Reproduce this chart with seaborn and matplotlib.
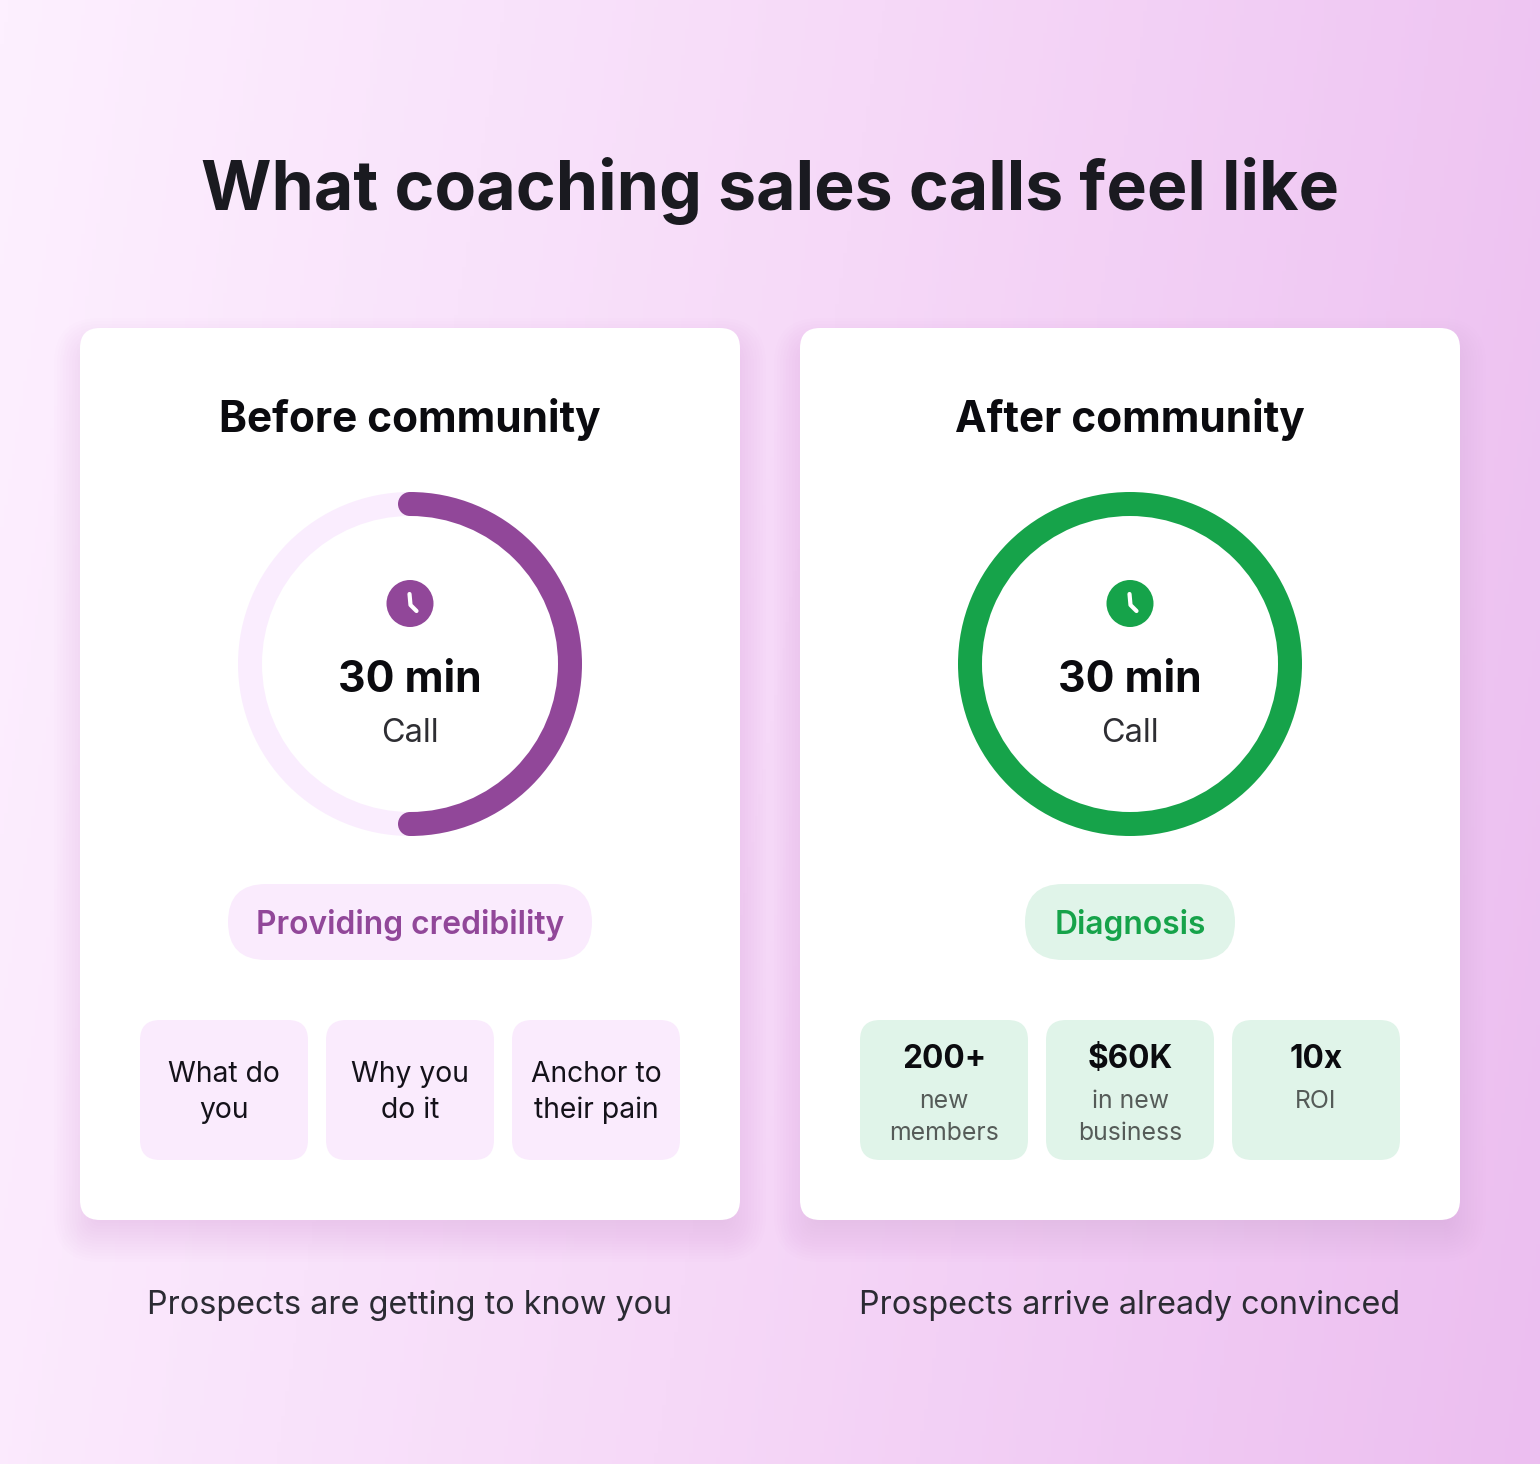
import numpy as np
import matplotlib
matplotlib.use("Agg")
import matplotlib.pyplot as plt
from matplotlib.patches import FancyBboxPatch, Circle
import seaborn as sns

# ---- data ----
title = "What coaching sales calls feel like"
panel_titles = ["Before community", "After community"]
spent_minutes = [15, 30]
total_minutes = [30, 30]
center_big = ["30 min", "30 min"]
center_small = ["Call", "Call"]
pill_labels = ["Providing credibility", "Diagnosis"]
before_boxes = ["What do\nyou", "Why you\ndo it", "Anchor to\ntheir pain"]
after_heads = ["200+", "$60K", "10x"]
after_subs = ["new\nmembers", "in new\nbusiness", "ROI"]
footers = ["Prospects are getting to know you", "Prospects arrive already convinced"]

# ---- style ----
W, H = 1540, 1464
PURPLE, GREEN = "#914799", "#16A34A"
TRACK = ["#FAEBFD", "#E0F4E9"]
MAIN = [PURPLE, GREEN]
px = 0.72

sns.set_theme(style="white")
plt.rcParams["font.family"] = ["Inter", "DejaVu Sans"]

fig = plt.figure(figsize=(W / 100, H / 100), dpi=100)
ax = fig.add_axes([0, 0, 1, 1])
ax.set_xlim(0, W)
ax.set_ylim(H, 0)
ax.axis("off")

# background gradient
cmap = sns.blend_palette(["#FDF0FF", "#F6D9F8", "#ECBEF0"], as_cmap=True)
gx, gy = np.meshgrid(np.linspace(0, 1, 400), np.linspace(0, 1, 400))
ax.imshow(0.87 * gx + 0.13 * gy, cmap=cmap, extent=[0, W, H, 0], aspect="auto",
          vmin=0, vmax=1, zorder=0)


def rbox(x0, y0, x1, y1, r, color, alpha=1.0, z=2):
    ax.add_patch(FancyBboxPatch((x0 + r, y0 + r), x1 - x0 - 2 * r, y1 - y0 - 2 * r,
                                boxstyle=f"round,pad={r},rounding_size={r}",
                                fc=color, ec="none", alpha=alpha, zorder=z))


def label(x, y, s, size, color="#111114", weight="normal", **kw):
    return ax.text(x, y, s, fontsize=size * px, color=color, weight=weight,
                   ha="center", va="baseline", zorder=6, **kw)


label(770, 210, title, 68, "#1A1A20", "bold")

panels = [80, 800]
for i, left in enumerate(panels):
    cx = left + 330
    # soft card shadow
    for grow in range(26, -14, -3):
        rbox(left - grow, 328 - grow + 16, left + 660 + grow, 1220 + grow + 16,
             max(20 + grow, 8), "#9A4AAA", alpha=0.007, z=1)
    rbox(left, 328, left + 660, 1220, 20, "white")
    label(cx, 432, panel_titles[i], 42.3, "#0B0B0F", "bold")

    # ring from the minutes values
    cy, R = 664, 172
    rax = fig.add_axes([(cx - R) / W, 1 - (cy + R) / H, 2 * R / W, 2 * R / H], zorder=3)
    rax.patch.set_alpha(0)
    wedges, _ = rax.pie([spent_minutes[i], total_minutes[i] - spent_minutes[i]],
                        colors=[MAIN[i], "#FAEDFE"], startangle=90, counterclock=False,
                        radius=1, wedgeprops=dict(width=24 / R, linewidth=0))
    rax.set_xlim(-1, 1)
    rax.set_ylim(-1, 1)
    if spent_minutes[i] < total_minutes[i]:
        mid = 1 - 12 / R
        for ang in (wedges[0].theta1, wedges[0].theta2):
            rax.add_patch(Circle((mid * np.cos(np.radians(ang)), mid * np.sin(np.radians(ang))),
                                 12 / R, fc=MAIN[i], ec="none", zorder=5, clip_on=False))

    # clock icon
    ax.add_patch(Circle((cx, 603.5), 23.5, fc=MAIN[i], ec="none", zorder=5))
    ax.plot([cx - 0.5, cx + 0.5, cx + 6.5], [594, 605, 611], color="white", lw=4.2 * px,
            solid_capstyle="round", solid_joinstyle="round", zorder=6)

    label(cx, 692, center_big[i], 42.8, "#0B0B0F", "bold")
    label(cx, 742, center_small[i], 32.5, "#2E2E33")

    # pill
    half = [182, 105][i]
    rbox(cx - half, 884, cx + half, 960, 38, TRACK[i])
    label(cx, 934, pill_labels[i], 31.8, MAIN[i], "semibold")

    # bottom boxes
    for j in range(3):
        bx = left + 60 + j * 186
        bc = bx + 84
        rbox(bx, 1020, bx + 168, 1160, 20, TRACK[i])
        if i == 0:
            for k, line in enumerate(before_boxes[j].split("\n")):
                label(bc, 1082 + 36 * k, line, 28.3, "#14121A")
        else:
            label(bc, 1068, after_heads[j], 31.5, "#0B0B0F", "bold")
            for k, sub in enumerate(after_subs[j].split("\n")):
                label(bc, 1108 + 32 * k, sub, 24.8, "#555B58")

    label(cx, 1314, footers[i], 32.3, "#2B2B33")

fig.savefig("out.png", dpi=100)
